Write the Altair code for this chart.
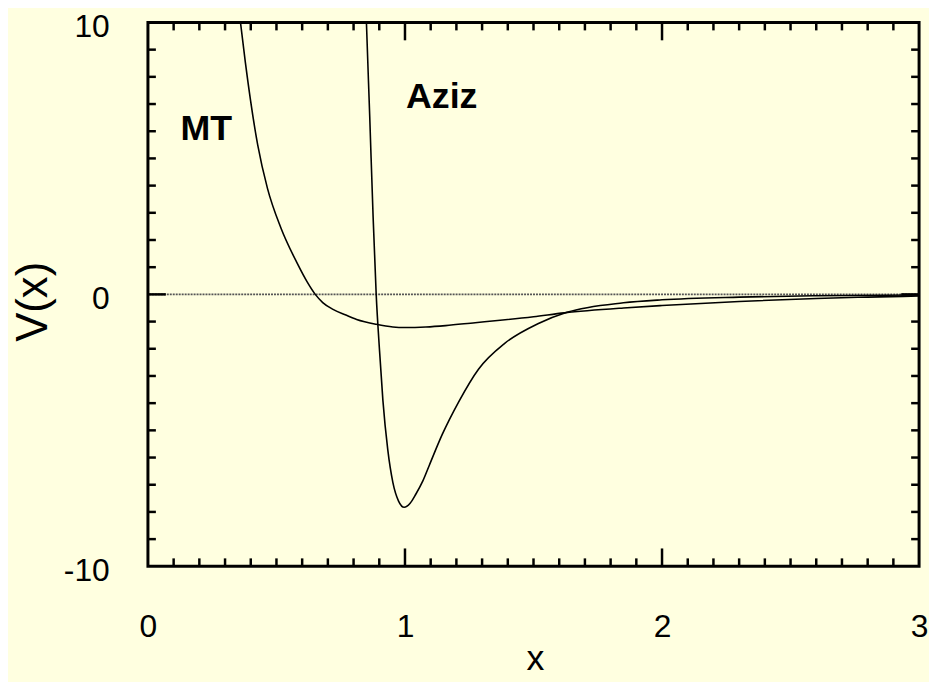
import altair as alt
import pandas as pd

# ---- data ----
MT_X = [0.35, 0.36, 0.379, 0.427, 0.465, 0.517, 0.581, 0.62, 0.651, 0.68, 0.72, 0.77, 0.812,
        0.888, 0.953, 1.0, 1.081, 1.158, 1.273, 1.35, 1.5, 1.62, 1.85, 2.0, 2.3, 2.6, 2.8, 3.0]
MT_V = [10.85, 10.0, 8.53, 5.5, 3.9, 2.45, 1.14, 0.45, 0.0, -0.3, -0.55, -0.76, -0.92,
        -1.1, -1.2, -1.22, -1.2, -1.15, -1.04, -0.97, -0.82, -0.68, -0.5, -0.41, -0.26, -0.15, -0.1, -0.06]

AZ_X = [0.848, 0.85, 0.863, 0.876, 0.888, 0.901, 0.914, 0.933, 0.953, 0.975, 0.997, 1.02,
        1.042, 1.07, 1.094, 1.145, 1.209, 1.286, 1.388, 1.517, 1.63, 1.85, 2.0, 2.3, 2.6, 3.0]
AZ_V = [10.6, 10.0, 6.5, 2.85, 0.0, -2.07, -3.89, -5.71, -6.92, -7.6, -7.83, -7.68,
        -7.35, -6.85, -6.3, -5.15, -3.95, -2.75, -1.8, -1.08, -0.66, -0.31, -0.2, -0.1, -0.05, -0.02]

LABELS = ["MT", "Aziz"]
LABEL_X = [0.127, 1.004]
LABEL_V = [6.07, 7.25]

X_TICK_LABELS = [0, 1, 2, 3]
Y_TICK_LABELS = [-10, 0, 10]
X_MINOR = [0.1, 0.2, 0.3, 0.4, 0.5, 0.6, 0.7, 0.8, 0.9,
           1.1, 1.2, 1.3, 1.4, 1.5, 1.6, 1.7, 1.8, 1.9,
           2.1, 2.2, 2.3, 2.4, 2.5, 2.6, 2.7, 2.8, 2.9]
X_MAJOR = [1, 2]
Y_MINOR = [-9, -8, -7, -6, -5, -4, -3, -2, -1, 1, 2, 3, 4, 5, 6, 7, 8, 9]
Y_MAJOR = [0]
ZERO = [0]

W, H = 777, 548
FONT = "Liberation Sans"
BG = "#FFFFE0"

xs = alt.Scale(domain=[0, 3], nice=False, zero=False)
ys = alt.Scale(domain=[-10, 10], nice=False, zero=False)

mt = pd.DataFrame({"x": MT_X, "v": MT_V})
az = pd.DataFrame({"x": AZ_X, "v": AZ_V})
lab = pd.DataFrame({"x": LABEL_X, "v": LABEL_V, "t": LABELS})

x_axis = alt.Axis(values=X_TICK_LABELS, labelExpr="'' + datum.value", ticks=False,
                  domain=False, grid=False, labelFlush=False,
                  labelFontSize=32, labelPadding=46, labelColor="black", labelFont=FONT,
                  title="x", titleFontSize=36, titleFontWeight="normal", titleFont=FONT,
                  titleColor="black", titleBaseline="alphabetic", titleY=104, titleX=390)
y_axis = alt.Axis(values=Y_TICK_LABELS, labelExpr="'' + datum.value", ticks=False,
                  domain=False, grid=False, labelOffset=4, labelFlush=False,
                  labelFontSize=32, labelPadding=39, labelColor="black", labelFont=FONT,
                  title="V(x)", titleFontSize=44, titleFontWeight="normal", titleFont=FONT,
                  titleColor="black", titleBaseline="alphabetic", titleX=-102, titleY=281,
                  titleAlign="center", titleAngle=270)


def X(field):
    return alt.X(field, scale=xs, axis=x_axis)


def Y(field):
    return alt.Y(field, scale=ys, axis=y_axis)


zero_line = alt.Chart(pd.DataFrame({"v": ZERO})).mark_rule(
    color="#555555", strokeWidth=1.6, strokeDash=[2, 1]
).encode(y=Y("v:Q"))

mt_line = alt.Chart(mt).mark_line(color="black", strokeWidth=1.6, clip=True,
                                  interpolate="monotone").encode(x=X("x:Q"), y=Y("v:Q"))
az_line = alt.Chart(az).mark_line(color="black", strokeWidth=1.6, clip=True,
                                  interpolate="monotone").encode(x=X("x:Q"), y=Y("v:Q"))

texts = alt.Chart(lab).mark_text(align="left", baseline="middle", fontSize=36,
                                 fontWeight="bold", font=FONT, color="black").encode(
    x=X("x:Q"), y=Y("v:Q"), text="t:N",
)


def xticks(vals, length):
    d = pd.DataFrame({"t": vals})
    r = dict(color="black", strokeWidth=2.5)
    bottom = alt.Chart(d).mark_rule(**r).encode(
        x=X("t:Q"), y=alt.value(H), y2=alt.value(H - length))
    top = alt.Chart(d).mark_rule(**r).encode(
        x=X("t:Q"), y=alt.value(0), y2=alt.value(length))
    return [bottom, top]


def yticks(vals, length):
    d = pd.DataFrame({"t": vals})
    r = dict(color="black", strokeWidth=2.5)
    left = alt.Chart(d).mark_rule(**r).encode(
        y=Y("t:Q"), x=alt.value(0), x2=alt.value(length))
    right = alt.Chart(d).mark_rule(**r).encode(
        y=Y("t:Q"), x=alt.value(W), x2=alt.value(W - length))
    return [left, right]


layers = [zero_line, mt_line, az_line, texts] + xticks(X_MINOR, 8) + xticks(X_MAJOR, 18) \
    + yticks(Y_MINOR, 8) + yticks(Y_MAJOR, 18)

chart = alt.layer(*layers).properties(
    width=W, height=H, autosize="none",
    padding={"left": 141, "top": 12, "right": 10, "bottom": 114},
    background=BG,
).configure_view(stroke="black", strokeWidth=3)

chart.save("out.html", embed_options={"renderer": "svg", "actions": False})
